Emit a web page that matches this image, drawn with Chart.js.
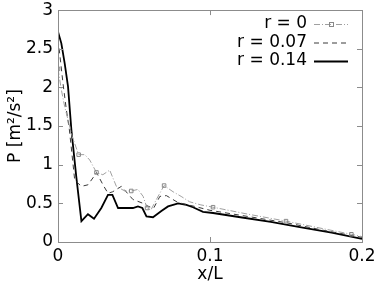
<!DOCTYPE html>
<html>
<head>
<meta charset="utf-8">
<script src="https://cdn.jsdelivr.net/npm/chart.js@4.4.0/dist/chart.umd.min.js"></script>
<style>
  body { margin: 0; background: #fff; }
  canvas { display: block; }
</style>
</head>
<body>
<canvas id="chart" width="382" height="285"></canvas>
<script>
const seriesLabels = ['r = 0', 'r = 0.07', 'r = 0.14'];

// r = 0
const x0 = [0, 0.0022, 0.0044, 0.0066, 0.0094, 0.0136, 0.0176, 0.0209, 0.0253, 0.0295, 0.034, 0.0384, 0.0439, 0.0482, 0.0526, 0.056, 0.0586, 0.061, 0.065, 0.0698, 0.0757, 0.081, 0.0866, 0.094, 0.102, 0.125, 0.15, 0.175, 0.193, 0.2];
const y0 = [2.24, 1.97, 1.75, 1.58, 1.36, 1.13, 1.13, 1.06, 0.90, 0.87, 0.93, 0.72, 0.66, 0.66, 0.68, 0.59, 0.44, 0.41, 0.56, 0.73, 0.65, 0.59, 0.52, 0.48, 0.45, 0.36, 0.27, 0.17, 0.10, 0.07];
const markedX0 = [0, 0.0136, 0.0253, 0.0482, 0.0586, 0.0698, 0.102, 0.15, 0.193];

// r = 0.07
const x1 = [0, 0.0011, 0.0033, 0.0055, 0.0075, 0.011, 0.0154, 0.0197, 0.023, 0.0253, 0.0296, 0.0329, 0.036, 0.0417, 0.0493, 0.056, 0.0595, 0.063, 0.067, 0.0713, 0.079, 0.09, 0.1, 0.125, 0.15, 0.175, 0.2];
const y1 = [2.62, 2.44, 2.05, 1.71, 1.45, 0.80, 0.72, 0.74, 0.83, 0.90, 0.74, 0.63, 0.65, 0.72, 0.55, 0.50, 0.46, 0.44, 0.59, 0.60, 0.51, 0.46, 0.41, 0.33, 0.25, 0.15, 0.06];

// r = 0.14
const x2 = [0, 0.0022, 0.0044, 0.0066, 0.0088, 0.012, 0.0154, 0.0197, 0.0237, 0.0285, 0.0329, 0.0358, 0.0395, 0.0493, 0.0526, 0.0555, 0.0582, 0.0625, 0.068, 0.0724, 0.079, 0.0845, 0.0888, 0.0954, 0.102, 0.12, 0.14, 0.16, 0.18, 0.2];
const y2 = [2.72, 2.57, 2.31, 2.01, 1.45, 0.85, 0.27, 0.36, 0.30, 0.44, 0.61, 0.61, 0.44, 0.44, 0.46, 0.44, 0.33, 0.32, 0.40, 0.46, 0.50, 0.48, 0.45, 0.39, 0.375, 0.32, 0.26, 0.19, 0.12, 0.04];

const xTicks = [0, 0.1, 0.2];
const yTicks = [0, 0.5, 1, 1.5, 2, 2.5, 3];

const FONT = 'DejaVu Sans';

function toPoints(xs, ys) {
  return xs.map((x, i) => ({x: x, y: ys[i]}));
}

// gnuplot-like frame with inward ticks on all four sides
const framePlugin = {
  id: 'frame',
  afterDatasetsDraw(chart) {
    const {ctx, chartArea: a, scales} = chart;
    ctx.save();
    ctx.strokeStyle = '#8c8c8c';
    ctx.lineWidth = 1;
    ctx.strokeRect(Math.round(a.left) + 0.5, Math.round(a.top) + 0.5, Math.round(a.right - a.left), Math.round(a.bottom - a.top));
    ctx.beginPath();
    xTicks.forEach((v) => {
      const px = Math.round(scales.x.getPixelForValue(v)) + 0.5;
      ctx.moveTo(px, a.bottom); ctx.lineTo(px, a.bottom - 5);
      ctx.moveTo(px, a.top); ctx.lineTo(px, a.top + 5);
    });
    yTicks.forEach((v) => {
      const py = Math.round(scales.y.getPixelForValue(v)) + 0.5;
      ctx.moveTo(a.left, py); ctx.lineTo(a.left + 5, py);
      ctx.moveTo(a.right, py); ctx.lineTo(a.right - 5, py);
    });
    ctx.stroke();
    ctx.restore();
  }
};

// legend in the top right corner: text then line sample
const keyPlugin = {
  id: 'key',
  afterDatasetsDraw(chart) {
    const ctx = chart.ctx;
    ctx.save();
    ctx.font = '17px "' + FONT + '"';
    ctx.textAlign = 'right';
    ctx.textBaseline = 'middle';
    chart.data.datasets.forEach((ds, i) => {
      const y = 24 + i * 18.5;
      ctx.fillStyle = '#000';
      ctx.fillText(ds.label, 307, y);
      ctx.beginPath();
      ctx.strokeStyle = ds.borderColor;
      ctx.lineWidth = ds.borderWidth;
      ctx.setLineDash(ds.borderDash || []);
      ctx.moveTo(314, y + 0.5);
      ctx.lineTo(348, y + 0.5);
      ctx.stroke();
      ctx.setLineDash([]);
      if (i === 0) {
        ctx.strokeStyle = '#888';
        ctx.lineWidth = 1;
        ctx.strokeRect(329.5, y - 1.5, 4, 4);
      }
    });
    ctx.restore();
  }
};

const config = {
  type: 'line',
  data: {
    datasets: [{
      label: seriesLabels[0],
      data: toPoints(x0, y0),
      borderColor: '#a0a0a0',
      borderWidth: 1,
      borderDash: [6, 2, 1, 2],
      pointStyle: 'rect',
      pointRadius: (c) => markedX0.includes(x0[c.dataIndex]) ? 2.5 : 0,
      pointBackgroundColor: 'rgba(0,0,0,0)',
      pointBorderColor: '#888',
      pointBorderWidth: 1,
      tension: 0
    }, {
      label: seriesLabels[1],
      data: toPoints(x1, y1),
      borderColor: '#3a3a3a',
      borderWidth: 1,
      borderDash: [5, 4],
      pointRadius: 0,
      tension: 0
    }, {
      label: seriesLabels[2],
      data: toPoints(x2, y2),
      borderColor: '#000',
      borderWidth: 1.8,
      pointRadius: 0,
      tension: 0
    }]
  },
  options: {
    responsive: false,
    animation: false,
    layout: { padding: { top: 0, right: 20, left: 0, bottom: 0 } },
    plugins: { legend: { display: false }, tooltip: { enabled: false } },
    scales: {
      x: {
        type: 'linear',
        min: 0, max: 0.2,
        afterFit: (s) => { s.height = 43; },
        afterBuildTicks: (s) => { s.ticks = xTicks.map((v) => ({value: v})); },
        grid: { display: false, drawTicks: false },
        border: { display: false },
        ticks: {
          color: '#000', padding: 4,
          font: { family: FONT, size: 17 },
          maxRotation: 0,
          callback: (v) => String(Math.round(v * 100) / 100)
        },
        title: {
          display: true, text: 'x/L', color: '#000',
          font: { family: FONT, size: 17 },
          padding: { top: 3, bottom: 0 }
        }
      },
      y: {
        min: 0, max: 3,
        afterFit: (s) => { s.width = 58; },
        afterBuildTicks: (s) => { s.ticks = yTicks.map((v) => ({value: v})); },
        grid: { display: false, drawTicks: false },
        border: { display: false },
        ticks: {
          color: '#000', padding: 5,
          font: { family: FONT, size: 17, lineHeight: 0.6 },
          callback: (v) => String(Math.round(v * 100) / 100)
        },
        title: {
          display: true, text: 'P [m²/s²]', color: '#000',
          font: { family: FONT, size: 17 },
          padding: { top: 5, bottom: 0 }
        }
      }
    }
  },
  plugins: [framePlugin, keyPlugin]
};

new Chart(document.getElementById('chart'), config);
</script>
</body>
</html>
